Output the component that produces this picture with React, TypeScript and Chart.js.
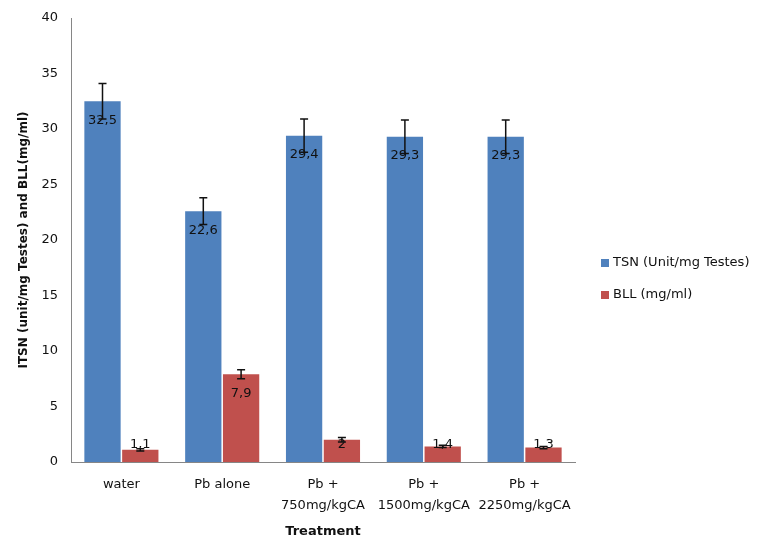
import React, { useEffect, useRef } from 'react';
import { Chart, registerables } from 'chart.js';

Chart.register(...registerables);

const categories: string[][] = [
  ['water'],
  ['Pb alone'],
  ['Pb +', '750mg/kgCA'],
  ['Pb +', '1500mg/kgCA'],
  ['Pb +', '2250mg/kgCA'],
];
const seriesNames = ['TSN (Unit/mg Testes)', 'BLL (mg/ml)'];
const tsnValues = [32.5, 22.6, 29.4, 29.3, 29.3];
const tsnErrors = [1.6, 1.2, 1.5, 1.5, 1.5];
const bllValues = [1.1, 7.9, 2.0, 1.4, 1.3];
const bllErrors = [0.1, 0.4, 0.2, 0.1, 0.1];
const yMin = 0;
const yMax = 40;
const yStep = 5;
const xTitle = 'Treatment';
const yTitle = 'ITSN (unit/mg Testes) and BLL(mg/ml)';

const FONT = "'DejaVu Sans', sans-serif";
const errorSets = [tsnErrors, bllErrors];

const overlayPlugin = {
  id: 'overlay',
  afterDatasetsDraw(chart: any) {
    const ctx = chart.ctx;
    const yScale = chart.scales.y;
    const zeroY = yScale.getPixelForValue(0);
    ctx.save();
    chart.data.datasets.forEach((ds: any, di: number) => {
      const meta = chart.getDatasetMeta(di);
      meta.data.forEach((el: any, i: number) => {
        const v = ds.data[i] as number;
        const label = String(v).replace('.', ',');
        ctx.font = `13px ${FONT}`;
        ctx.fillStyle = '#111';
        ctx.textAlign = 'center';
        ctx.textBaseline = 'middle';
        const ly = Math.min(el.y + 19, zeroY - 17);
        ctx.fillText(label, el.x, ly);
        const e = errorSets[di][i];
        const yt = yScale.getPixelForValue(v + e);
        const yb = yScale.getPixelForValue(v - e);
        ctx.strokeStyle = '#111';
        ctx.lineWidth = 1.5;
        ctx.beginPath();
        ctx.moveTo(el.x, yt);
        ctx.lineTo(el.x, yb);
        ctx.moveTo(el.x - 4, yt);
        ctx.lineTo(el.x + 4, yt);
        ctx.moveTo(el.x - 4, yb);
        ctx.lineTo(el.x + 4, yb);
        ctx.stroke();
      });
    });
    // legend
    const legendY = [263, 295];
    chart.data.datasets.forEach((ds: any, di: number) => {
      ctx.fillStyle = ds.backgroundColor;
      ctx.fillRect(601, legendY[di] - 4, 8, 8);
      ctx.fillStyle = '#111';
      ctx.font = `13px ${FONT}`;
      ctx.textAlign = 'left';
      ctx.textBaseline = 'middle';
      ctx.fillText(ds.label, 613, legendY[di]);
    });
    ctx.restore();
  },
};

export default function App() {
  const ref = useRef<HTMLCanvasElement | null>(null);
  useEffect(() => {
    if (!ref.current) return;
    const chart = new Chart(ref.current, {
      type: 'bar',
      data: {
        labels: categories as any,
        datasets: [
          {
            label: seriesNames[0],
            data: tsnValues,
            backgroundColor: '#4F81BD',
            categoryPercentage: 0.75,
            barPercentage: 0.96,
          },
          {
            label: seriesNames[1],
            data: bllValues,
            backgroundColor: '#C0504D',
            categoryPercentage: 0.75,
            barPercentage: 0.96,
          },
        ],
      },
      options: {
        animation: false,
        responsive: false,
        maintainAspectRatio: false,
        layout: { padding: { left: 0, top: 18, right: 196, bottom: 0 } },
        plugins: { legend: { display: false }, tooltip: { enabled: false } },
        scales: {
          x: {
            grid: { display: false },
            border: { display: true, color: '#868686', width: 1 },
            ticks: {
              color: '#111',
              font: { family: FONT, size: 13, lineHeight: 1.55 },
              padding: 5,
              maxRotation: 0,
              autoSkip: false,
            },
            title: {
              display: true,
              text: xTitle,
              color: '#111',
              font: { family: FONT, size: 13, weight: 'bold' },
              padding: 1,
            },
            afterFit: (s: any) => {
              s.height = 78;
            },
          },
          y: {
            min: yMin,
            max: yMax,
            grid: { display: false },
            border: { display: true, color: '#868686', width: 1 },
            ticks: {
              stepSize: yStep,
              color: '#111',
              font: { family: FONT, size: 13 },
              padding: 5,
            },
            title: {
              display: true,
              text: yTitle,
              color: '#111',
              font: { family: FONT, size: 12, weight: 'bold' },
              padding: 17,
            },
            afterFit: (s: any) => {
              s.width = 71;
            },
          },
        },
      },
      plugins: [overlayPlugin],
    });
    return () => chart.destroy();
  }, []);
  return (
    <div style={{ position: 'fixed', left: 0, top: 0, width: 771, height: 540, background: '#fff' }}>
      <canvas ref={ref} width={771} height={540} style={{ width: 771, height: 540 }} />
    </div>
  );
}
